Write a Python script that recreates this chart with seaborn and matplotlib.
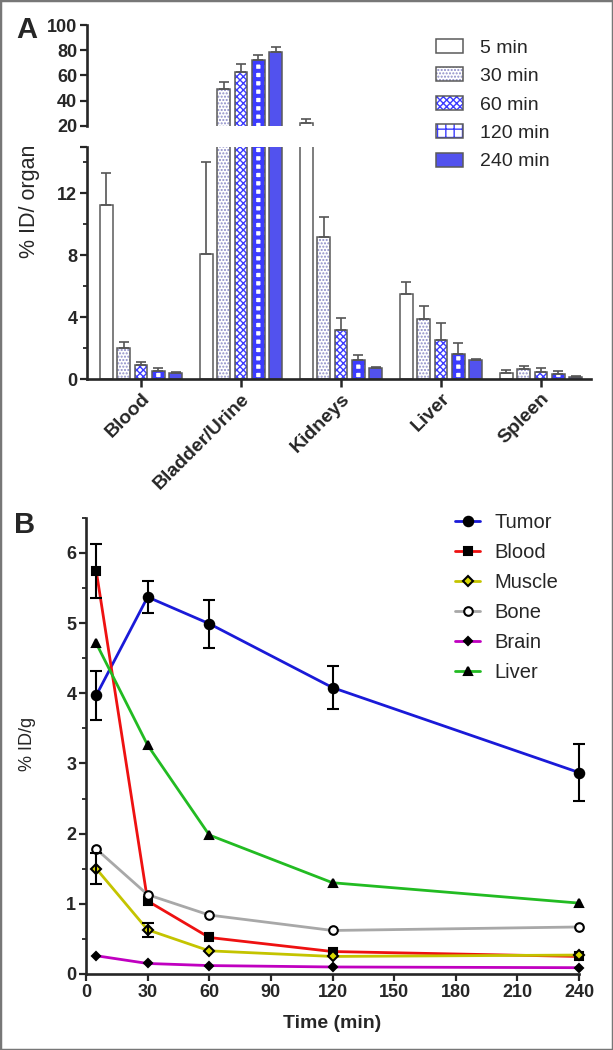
import numpy as np
import pandas as pd
import matplotlib
matplotlib.use("Agg")
import matplotlib.pyplot as plt
import seaborn as sns
from matplotlib.colors import to_rgba
from matplotlib.patches import Rectangle
from matplotlib.ticker import FixedLocator, MultipleLocator

# ---------------- data: panel A (% ID / organ) ----------------
organs = ["Blood", "Bladder/Urine", "Kidneys", "Liver", "Spleen"]
time_labels = ["5 min", "30 min", "60 min", "120 min", "240 min"]
id_5min = [11.25, 8.05, 22.1, 5.5, 0.39]
id_30min = [2.02, 49.3, 9.15, 3.9, 0.65]
id_60min = [0.88, 62.5, 3.17, 2.5, 0.43]
id_120min = [0.52, 72.3, 1.23, 1.6, 0.32]
id_240min = [0.41, 78.4, 0.70, 1.2, 0.15]
err_5min = [2.05, 6.0, 3.5, 0.8, 0.2]
err_30min = [0.35, 5.8, 1.3, 0.8, 0.2]
err_60min = [0.20, 6.4, 0.8, 1.1, 0.26]
err_120min = [0.17, 4.0, 0.32, 0.7, 0.22]
err_240min = [0.05, 3.9, 0.10, 0.07, 0.05]

# ---------------- data: panel B (% ID / g) ----------------
times = [5, 30, 60, 120, 240]
tumor = [3.97, 5.37, 4.99, 4.08, 2.87]
tumor_err = [0.35, 0.23, 0.34, 0.31, 0.41]
blood = [5.74, 1.04, 0.52, 0.32, 0.25]
blood_err = [0.38, 0, 0, 0, 0]
muscle = [1.50, 0.63, 0.33, 0.25, 0.27]
muscle_err = [0.22, 0.10, 0, 0, 0]
bone = [1.78, 1.13, 0.84, 0.62, 0.67]
brain = [0.26, 0.15, 0.12, 0.10, 0.09]
liver = [4.71, 3.26, 1.98, 1.30, 1.01]

sns.set_style("ticks")
plt.rcParams["font.family"] = ["Liberation Sans", "DejaVu Sans"]
plt.rcParams["hatch.linewidth"] = 1.0

W, H = 613, 1050
fig = plt.figure(figsize=(W / 100, H / 100), dpi=100)


def fx(px):
    return px / W


def fy(py):
    return 1 - py / H


# axes placement (pixel measurements)
ax_top = fig.add_axes([fx(87), fy(126), fx(591) - fx(87), fy(25) - fy(126)])
ax_bot = fig.add_axes([fx(87), fy(379), fx(591) - fx(87), fy(147) - fy(379)])
ax_b = fig.add_axes([fx(86), fy(974), fx(579) - fx(86), fy(517.7) - fy(974)])

SPW = 1.9
TICK_FS = 13

# ---------------- panel A ----------------
vals = [id_5min, id_30min, id_60min, id_120min, id_240min]
errs = [err_5min, err_30min, err_60min, err_120min, err_240min]
df = pd.DataFrame({
    "organ": organs * len(time_labels),
    "time": np.repeat(time_labels, len(organs)),
    "value": np.concatenate(vals),
})
faces = ["#ffffff", "#ffffff", "#ffffff", "#ffffff", "#5252ee"]
hatches = ["", ".....", "xxxxx", "++", ""]
hatch_cols = ["#606060", "#8c8cc8", "#3c3cff", "#3c3cff", "#5252ee"]
edge = "#5a5a5a"

legend_handles = None
for ax in (ax_top, ax_bot):
    sns.barplot(data=df, x="organ", y="value", hue="time", order=organs,
                hue_order=time_labels, palette=faces, saturation=1,
                width=0.865, gap=0.25, edgecolor=edge, linewidth=1.1,
                errorbar=None, legend=False, ax=ax)
    bar_conts = list(ax.containers)
    for i, cont in enumerate(bar_conts):
        for p in cont.patches:
            p.set_hatch(hatches[i])
            p._hatch_color = to_rgba(hatch_cols[i])
            if i == 3 and hasattr(p, "set_hatch_linewidth"):
                p.set_hatch_linewidth(2.9)
    if ax is ax_bot:
        legend_handles = [c.patches[0] for c in bar_conts]
    for i, cont in enumerate(bar_conts):
        for p in cont.patches:
            xc = p.get_x() + p.get_width() / 2
            j = int(round(xc))
            top = p.get_height()
            ax.errorbar([xc], [top], yerr=[[0], [errs[i][j]]], fmt="none",
                        ecolor="#555555", elinewidth=1.2, capsize=3.6,
                        capthick=1.2, zorder=3)
    ax.set_xlim(-0.54, 4.5)
    ax.set_xlabel("")
    ax.set_ylabel("")
    for s in ("top", "right"):
        ax.spines[s].set_visible(False)
    ax.spines["left"].set_linewidth(SPW)
    ax.spines["bottom"].set_linewidth(SPW)
    ax.tick_params(axis="both", width=1.6, length=5, labelsize=TICK_FS, pad=2)
    ax.set_facecolor("none")

ax_top.set_ylim(20, 100)
ax_top.yaxis.set_major_locator(FixedLocator([20, 40, 60, 80, 100]))
ax_top.spines["bottom"].set_visible(False)
ax_top.tick_params(axis="x", bottom=False, labelbottom=False)

ax_bot.set_ylim(0, 15)
ax_bot.set_yticks([0, 4, 8, 12, 15])
ax_bot.set_yticklabels(["0", "4", "8", "12", ""])
ax_bot.yaxis.set_minor_locator(FixedLocator([2, 6, 10, 14]))
ax_bot.tick_params(axis="y", which="minor", length=3, width=1.3)
ax_bot.tick_params(axis="x", length=6, width=1.8)
ax_bot.set_xticks(range(len(organs)))
ax_bot.set_xticklabels(organs, rotation=45, ha="right", rotation_mode="anchor",
                       fontsize=14, fontweight="bold")
for ax in (ax_top, ax_bot):
    for t in ax.get_yticklabels():
        t.set_fontweight("bold")

fig.legend(handles=legend_handles, labels=time_labels, loc="upper left",
           bbox_to_anchor=(fx(436), fy(39)), frameon=False, fontsize=14,
           handlelength=1.4, handleheight=0.72, handletextpad=0.85,
           labelspacing=0.55, borderpad=0, borderaxespad=0)

fig.text(fx(30), fy(201), "% ID/ organ", rotation=90, ha="center",
         va="center", fontsize=15.5)
fig.text(fx(27), fy(30), "A", ha="center", va="center", fontsize=21,
         fontweight="bold")

# ---------------- panel B ----------------
series = [
    ("Tumor", tumor, "#1a1ad8", "o", "black", 6.8),
    ("Blood", blood, "#ee1111", "s", "black", 6.0),
    ("Muscle", muscle, "#c4c400", "D", "#d8d800", 5.6),
    ("Bone", bone, "#a8a8a8", "o", "white", 6.2),
    ("Brain", brain, "#c000c0", "D", "black", 4.4),
    ("Liver", liver, "#22bb22", "^", "black", 6.4),
]
for name, y, col, mk, mfc, ms in series:
    sns.lineplot(x=times, y=y, ax=ax_b, color=col, linewidth=2.0,
                 marker=mk, markersize=ms, markerfacecolor=mfc,
                 markeredgecolor="black", markeredgewidth=1.5,
                 label=name, clip_on=False, zorder=3)

for y, e in ((tumor, tumor_err), (blood, blood_err), (muscle, muscle_err)):
    xs = [t for t, ee in zip(times, e) if ee > 0]
    ys = [v for v, ee in zip(y, e) if ee > 0]
    es = [ee for ee in e if ee > 0]
    ax_b.errorbar(xs, ys, yerr=es, fmt="none", ecolor="black",
                  elinewidth=1.5, capsize=4.5, capthick=1.5, zorder=5,
                  clip_on=False)

ax_b.set_xlim(0, 240)
ax_b.set_ylim(0, 6.5)
ax_b.xaxis.set_major_locator(FixedLocator(list(range(0, 241, 30))))
ax_b.yaxis.set_major_locator(FixedLocator([0, 1, 2, 3, 4, 5, 6]))
ax_b.yaxis.set_minor_locator(MultipleLocator(0.5))
for s in ("top", "right"):
    ax_b.spines[s].set_visible(False)
ax_b.spines["left"].set_linewidth(SPW)
ax_b.spines["bottom"].set_linewidth(SPW)
ax_b.tick_params(axis="both", which="major", width=1.6, length=5,
                 labelsize=TICK_FS, pad=2)
ax_b.tick_params(axis="y", which="minor", width=1.3, length=3)
for t in ax_b.get_xticklabels() + ax_b.get_yticklabels():
    t.set_fontweight("bold")
ax_b.set_xlabel("")
ax_b.set_ylabel("")

h, l = ax_b.get_legend_handles_labels()
ax_b.legend(h, l, loc="upper left", bbox_to_anchor=(fx(455), fy(513)),
            bbox_transform=fig.transFigure, frameon=False, fontsize=14.5,
            handlelength=1.25, handletextpad=0.7, labelspacing=0.55,
            borderpad=0, borderaxespad=0)

fig.text(fx(332), fy(1023), "Time (min)", ha="center", va="center",
         fontsize=14, fontweight="bold")
fig.text(fx(28), fy(744), "% ID/g", rotation=90, ha="center", va="center",
         fontsize=13)
fig.text(fx(25), fy(525), "B", ha="center", va="center", fontsize=21,
         fontweight="bold")

fig.patches.append(Rectangle((0, 0), 1, 1, transform=fig.transFigure,
                             fill=False, edgecolor="#777777", linewidth=2.5,
                             zorder=10))

fig.savefig("out.png", dpi=100)
